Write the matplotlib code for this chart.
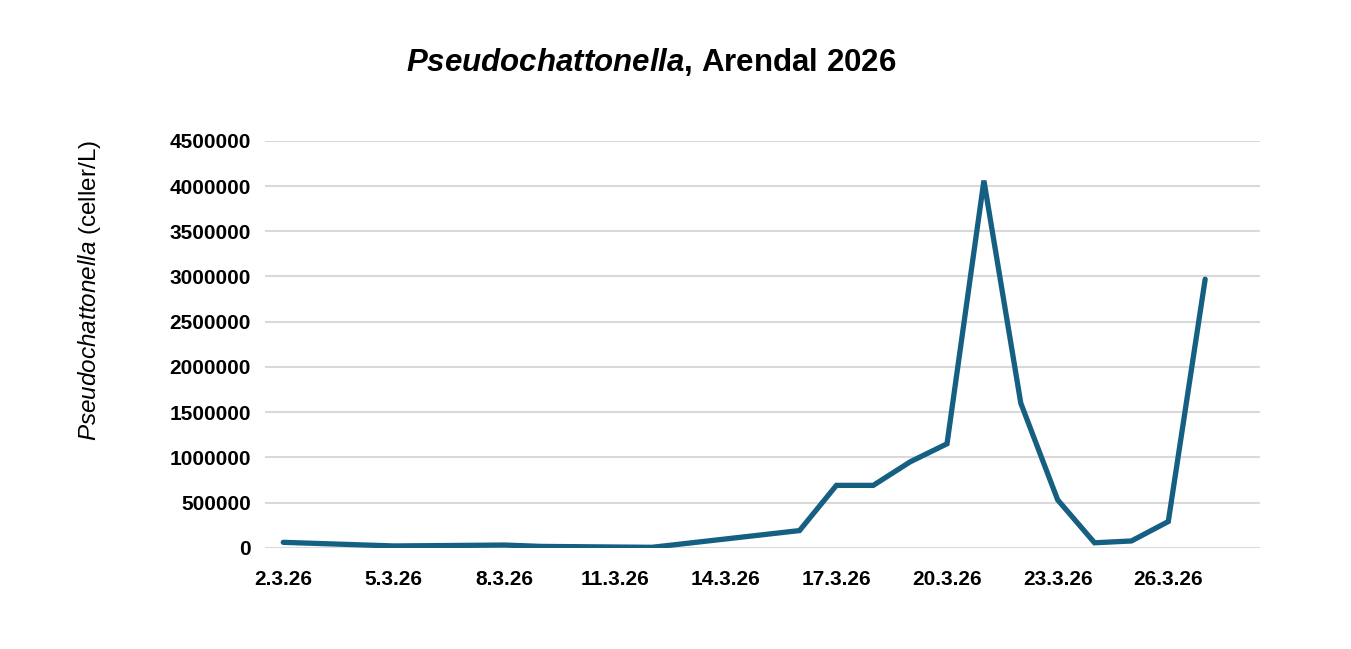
import matplotlib.pyplot as plt

# sampling days in March 2026 and cell counts (celler/L)
days = [2, 5, 8, 9, 12, 16, 17, 18, 19, 20, 21, 22, 23, 24, 25, 26, 27]
cells = [60000, 20000, 30000, 15000, 5000, 190000, 690000, 690000, 950000,
         1150000, 4060000, 1600000, 530000, 55000, 75000, 290000, 2970000]

tick_days = [2, 5, 8, 11, 14, 17, 20, 23, 26]
tick_labels = ['%d.3.26' % d for d in tick_days]
y_ticks = list(range(0, 4500001, 500000))

plt.rcParams['mathtext.fontset'] = 'custom'
plt.rcParams['mathtext.rm'] = 'Liberation Sans'
plt.rcParams['mathtext.it'] = 'Liberation Sans:italic'
plt.rcParams['mathtext.bf'] = 'Liberation Sans:bold'
plt.rcParams['mathtext.bfit'] = 'Liberation Sans:italic:bold'

fig = plt.figure(figsize=(13.51, 6.49), dpi=100)
ax = fig.add_axes([0.196, 0.156, 0.737, 0.627])

ax.plot(days, cells, color='#156082', linewidth=3.8, solid_capstyle='round',
        solid_joinstyle='miter', zorder=3)

ax.set_xlim(1.5, 28.5)
ax.set_ylim(0, 4500000)
ax.set_yticks(y_ticks)
ax.set_yticklabels([str(v) for v in y_ticks])
ax.set_xticks(tick_days)
ax.set_xticklabels(tick_labels)
ax.grid(axis='y', color='#d9d9d9', linewidth=1.5, zorder=0)
ax.set_axisbelow(True)
for s in ax.spines.values():
    s.set_visible(False)
ax.tick_params(length=0)
ax.tick_params(axis='x', pad=16)
ax.tick_params(axis='y', pad=10)
for lab in ax.get_xticklabels() + ax.get_yticklabels():
    lab.set_family('Liberation Sans')
    lab.set_weight('bold')
    lab.set_fontsize(15)

# y label placed by hand (sits above the axes centre in the reference)
fig.text(0.066, 0.553, r'$\mathit{Pseudochattonella}$ (celler/L)', fontsize=17.5,
         family='Liberation Sans', rotation=90, ha='center', va='center')
fig.text(0.482, 0.904, r'$\mathbfit{Pseudochattonella}$, Arendal 2026',
         ha='center', va='center', fontsize=22.5, fontweight='bold',
         family='Liberation Sans')

plt.savefig('out.png', dpi=100)
